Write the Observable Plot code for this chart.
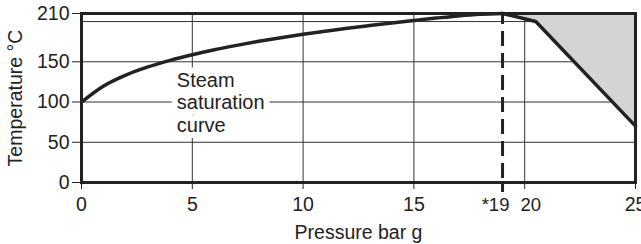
<!DOCTYPE html>
<html><head><meta charset="utf-8">
<script src="https://cdn.jsdelivr.net/npm/d3@7"></script>
<script src="https://cdn.jsdelivr.net/npm/@observablehq/plot@0.6"></script>
<style>html,body{margin:0;padding:0;background:#fff} svg{display:block}</style>
</head><body><div id="chart"></div>
<script>
// Steam saturation curve (bar g -> °C)
const pressure    = [0, 1, 2, 3, 4, 5, 6, 7, 8, 9, 10, 11, 12, 13, 14, 15, 16, 17, 18, 19];
const temperature = [100, 120, 133.5, 143.6, 151.8, 158.8, 165, 170.4, 175.4, 179.9, 184.1, 188, 191.6, 195, 198.3, 201.4, 204.3, 207, 209, 210];
// operating limit line (shaded region above)
const limitPressure    = [19, 20.5, 25];
const limitTemperature = [210, 200, 70];
// axes
const xTicks = [0, 5, 10, 15, 19, 20, 25];
const xTickLabels = ["0", "5", "10", "15", "*19", "20", "25"];
const yTicks = [0, 50, 100, 150, 210];
const xGrid = [5, 10, 15, 20];
const yGrid = [50, 100, 150, 200];
const dashedAt = [19];
const yMax = 210;
const annotationText = ["Steam\nsaturation\ncurve"];
const annotationPressure = [4.3];
const annotationTemperature = [100];

const sat = pressure.map((p, i) => ({p, t: temperature[i]}));
const limit = limitPressure.map((p, i) => ({p, t: limitTemperature[i]}));
const ann = annotationText.map((s, i) => ({s, p: annotationPressure[i], t: annotationTemperature[i]}));
const label = d => xTickLabels[xTicks.indexOf(d)];

const ink = "#222";
const chart = Plot.plot({
  width: 641, height: 244,
  marginLeft: 81, marginRight: 6, marginTop: 13, marginBottom: 62,
  style: {fontFamily: "'Liberation Sans', Arial, sans-serif", fontSize: "18.5px", color: ink, background: "white"},
  x: {domain: [0, 25]},
  y: {domain: [0, yMax]},
  marks: [
    Plot.ruleX(xGrid, {stroke: "#333", strokeWidth: 1}),
    Plot.ruleY(yGrid, {stroke: "#333", strokeWidth: 1}),
    Plot.areaY(limit, {x: "p", y1: "t", y2: () => yMax, fill: "#d3d4d6"}),
    Plot.text(ann, {x: "p", y: "t", text: "s", textAnchor: "start", lineAnchor: "middle", lineHeight: 1.13, fontSize: 20, fill: ink, stroke: "white", strokeWidth: 12}),
    Plot.ruleX(dashedAt, {stroke: ink, strokeWidth: 3, strokeDasharray: "15,7", strokeDashoffset: 4}),
    Plot.line(sat, {x: "p", y: "t", curve: "monotone-x", stroke: ink, strokeWidth: 3.5}),
    Plot.line(limit, {x: "p", y: "t", stroke: ink, strokeWidth: 3.5}),
    Plot.frame({stroke: ink, strokeWidth: 3}),
    Plot.axisX({ticks: xTicks, tickFormat: d => (d === 19 || d === 20) ? "" : label(d), tickSize: 7, tickPadding: 8, stroke: ink,
      label: "Pressure bar g", labelAnchor: "center", labelOffset: 56, labelArrow: "none", fontSize: 19.5}),
    Plot.axisX({ticks: dashedAt, tickSize: 10, strokeWidth: 3, stroke: ink, text: null, label: null}),
    Plot.axisX({ticks: [19], tickFormat: label, tickSize: 0, tickPadding: 15, dx: -7, label: null}),
    Plot.axisX({ticks: [20], tickFormat: label, tickSize: 0, tickPadding: 15, dx: 6, label: null}),
    Plot.axisY({ticks: yTicks, tickSize: 9, tickPadding: 3, stroke: ink,
      label: "Temperature °C", labelAnchor: "center", labelOffset: 73, labelArrow: "none", fontSize: 19.5})
  ]
});
document.getElementById("chart").appendChild(chart);
</script>
</body></html>
